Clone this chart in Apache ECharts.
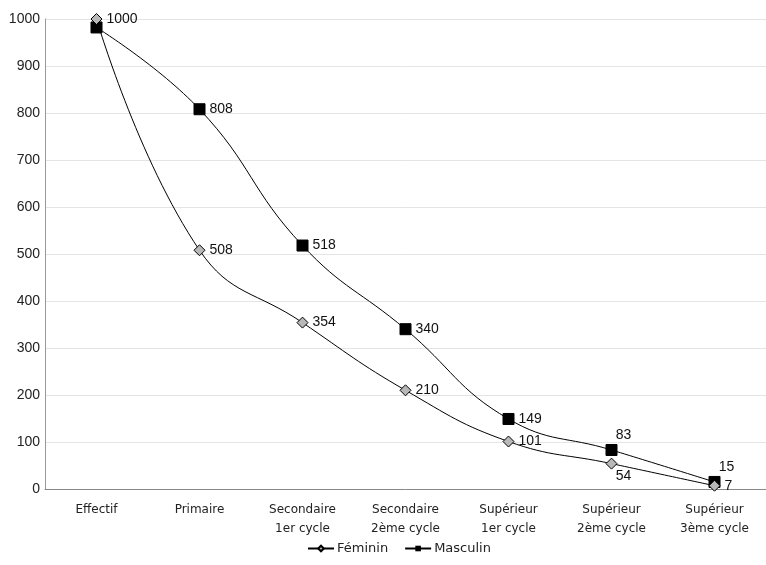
<!DOCTYPE html>
<html>
<head>
<meta charset="utf-8">
<script src="https://cdn.jsdelivr.net/npm/echarts@6/dist/echarts.min.js"></script>
<style>
  html, body { margin: 0; padding: 0; background: #fff; }
  #chart { width: 766px; height: 565px; }
</style>
</head>
<body>
<div id="chart"></div>
<script>
// Niveaux d'études
const categories = ['Effectif', 'Primaire', 'Secondaire\n1er cycle', 'Secondaire\n2ème cycle',
  'Supérieur\n1er cycle', 'Supérieur\n2ème cycle', 'Supérieur\n3ème cycle'];
const feminin = [1000, 508, 354, 210, 101, 54, 7];
const masculin = [982, 808, 518, 340, 149, 83, 15];
const yTicks = [0, 100, 200, 300, 400, 500, 600, 700, 800, 900, 1000];

const FONT = '"DejaVu Sans", Verdana, sans-serif';
const NUM_FONT = '"Liberation Sans", Arial, sans-serif';

// position of each value label around its marker
const femLabelPos = ['right', 'right', 'right', 'right', 'right', 'bottom', 'right'];
const mascLabelPos = ['right', 'right', 'right', 'right', 'right', 'top', 'top'];

function withLabels(values, positions, showFirst) {
  return values.map((v, i) => ({
    value: v,
    label: {
      show: showFirst || i > 0,
      position: positions[i],
      offset: positions[i] === 'bottom' ? [12, -4] : (positions[i] === 'top' ? [12, 2] : [0, 0])
    }
  }));
}

const chart = echarts.init(document.getElementById('chart'));
chart.setOption({
  animation: false,
  backgroundColor: '#fff',
  grid: { left: 45, top: 19, right: -4, bottom: 76, containLabel: false },
  xAxis: {
    type: 'category',
    data: categories,
    boundaryGap: true,
    axisLine: { lineStyle: { color: '#888', width: 1 } },
    axisTick: { show: false },
    axisLabel: { color: '#222', fontFamily: FONT, fontSize: 12, margin: 11, lineHeight: 19 }
  },
  yAxis: {
    type: 'value',
    min: yTicks[0],
    max: yTicks[yTicks.length - 1],
    interval: 100,
    axisLine: { show: true, lineStyle: { color: '#999', width: 1 } },
    axisTick: { show: false },
    splitLine: { lineStyle: { color: '#e4e4e4', width: 1 } },
    axisLabel: { color: '#222', fontFamily: NUM_FONT, fontSize: 14, margin: 5, formatter: v => String(v) }
  },
  legend: {
    bottom: 5,
    left: 302,
    itemWidth: 26,
    itemHeight: 7,
    itemGap: 16,
    textStyle: { color: '#222', fontFamily: FONT, fontSize: 13, padding: [0, 0, 0, -2] },
    data: ['Féminin', 'Masculin']
  },
  series: [
    {
      name: 'Masculin',
      type: 'line',
      smooth: 0.45,
      data: withLabels(masculin, mascLabelPos, false),
      symbol: 'rect',
      symbolSize: 11,
      itemStyle: { color: '#000', borderColor: '#000' },
      lineStyle: { color: '#000', width: 1 },
      label: { color: '#111', fontFamily: NUM_FONT, fontSize: 14, distance: 4 },
      z: 3
    },
    {
      name: 'Féminin',
      type: 'line',
      smooth: 0.45,
      data: withLabels(feminin, femLabelPos, true),
      symbol: 'diamond',
      symbolSize: 11,
      itemStyle: { color: '#b8b8b8', borderColor: '#000', borderWidth: 1 },
      lineStyle: { color: '#000', width: 1 },
      label: { color: '#111', fontFamily: NUM_FONT, fontSize: 14, distance: 4 },
      z: 4
    }
  ]
});
</script>
</body>
</html>
